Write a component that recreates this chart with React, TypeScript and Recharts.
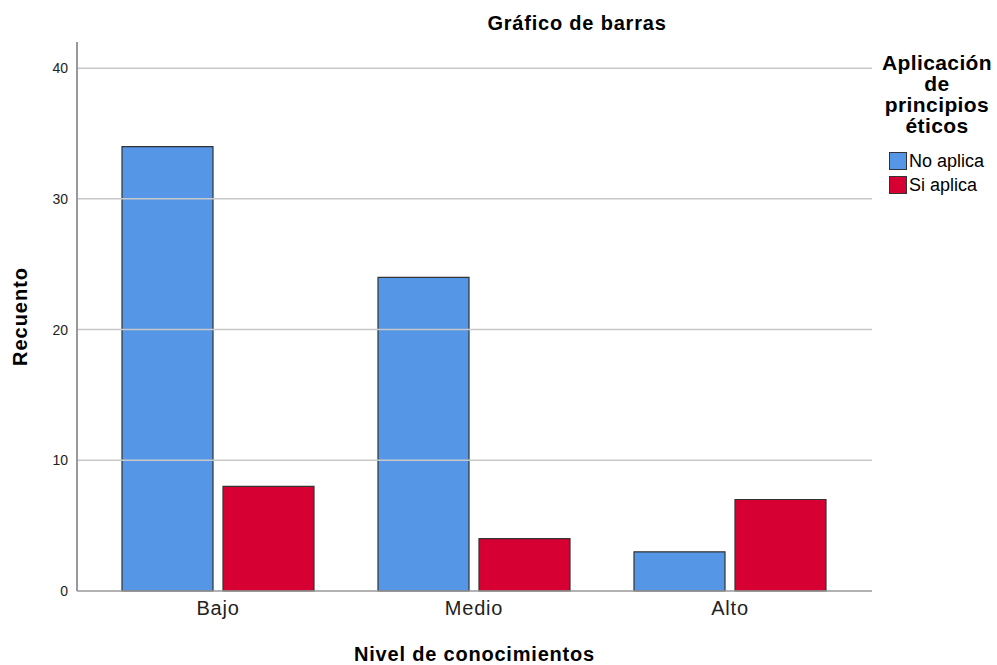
import { Bar, BarChart, ReferenceLine, XAxis, YAxis } from 'recharts';

const categories = ['Bajo', 'Medio', 'Alto'];
const noAplica = [34, 24, 3];
const siAplica = [8, 4, 7];
const yTicks = [0, 10, 20, 30, 40];

const data = categories.map((nivel, i) => ({
  nivel,
  noAplica: noAplica[i],
  siAplica: siAplica[i],
}));

const font = 'Arial, "Liberation Sans", sans-serif';
const BLUE = '#5596e6';
const RED = '#d60032';

const legendItems = [
  { label: 'No aplica', color: BLUE },
  { label: 'Si aplica', color: RED },
];

function LegendBox() {
  return (
    <div style={{ position: 'absolute', left: 878, top: 52, fontFamily: font, color: '#000' }}>
      <div
        style={{
          fontWeight: 'bold',
          fontSize: 21,
          letterSpacing: 0.4,
          lineHeight: '21px',
          textAlign: 'center',
          width: 118,
        }}
      >
        Aplicación de principios éticos
      </div>
      <div style={{ marginTop: 13, marginLeft: 11 }}>
        {legendItems.map((it) => (
          <div key={it.label} style={{ display: 'flex', alignItems: 'center', height: 24, fontSize: 18 }}>
            <span
              style={{
                width: 18,
                height: 18,
                background: it.color,
                border: '1.5px solid #333',
                marginRight: 2,
                boxSizing: 'border-box',
              }}
            />
            {it.label}
          </div>
        ))}
      </div>
    </div>
  );
}

export default function App() {
  return (
    <div style={{ position: 'absolute', left: 0, top: 0, width: 997, height: 665, background: '#fff' }}>
      <div
        style={{
          position: 'absolute',
          left: 457,
          width: 240,
          top: 12,
          textAlign: 'center',
          fontFamily: font,
          fontWeight: 'bold',
          fontSize: 20,
          letterSpacing: 0.8,
        }}
      >
        Gráfico de barras
      </div>
      <LegendBox />
      <BarChart
        width={997}
        height={665}
        data={data}
        margin={{ top: 42, right: 125, bottom: 0, left: 0 }}
        barCategoryGap={32}
        barGap={10}
        style={{ fontFamily: font }}
      >
        {/* grid rows only at the labelled ticks, no line along the top edge */}
        {yTicks
          .filter((t) => t > 0)
          .map((t) => (
            <ReferenceLine key={t} y={t} stroke="#c8c8c8" strokeWidth={1.5} />
          ))}
        <XAxis
          dataKey="nivel"
          padding={{ left: 13, right: 14 }}
          height={74}
          stroke="#999"
          strokeWidth={1.5}
          tickLine={false}
          tickSize={6}
          tickMargin={4}
          tick={{ fill: '#222', fontSize: 20, letterSpacing: 0.8 }}
          label={{
            value: 'Nivel de conocimientos',
            position: 'insideBottom',
            offset: 4,
            fill: '#000',
            fontWeight: 'bold',
            fontSize: 20,
            letterSpacing: 0.8,
          }}
        />
        <YAxis
          domain={[0, 42]}
          ticks={yTicks}
          width={77}
          stroke="#999"
          strokeWidth={2}
          tickLine={false}
          tickSize={6}
          tickMargin={3}
          tick={{ fill: '#222', fontSize: 14 }}
          label={{
            value: 'Recuento',
            angle: -90,
            position: 'insideLeft',
            offset: 20,
            fill: '#000',
            fontWeight: 'bold',
            fontSize: 20,
            letterSpacing: 1,
            style: { textAnchor: 'middle' },
          }}
        />
        <Bar dataKey="noAplica" name="No aplica" fill={BLUE} stroke="#333" strokeWidth={1.2} isAnimationActive={false} />
        <Bar dataKey="siAplica" name="Si aplica" fill={RED} stroke="#333" strokeWidth={1.2} isAnimationActive={false} />
      </BarChart>
    </div>
  );
}
